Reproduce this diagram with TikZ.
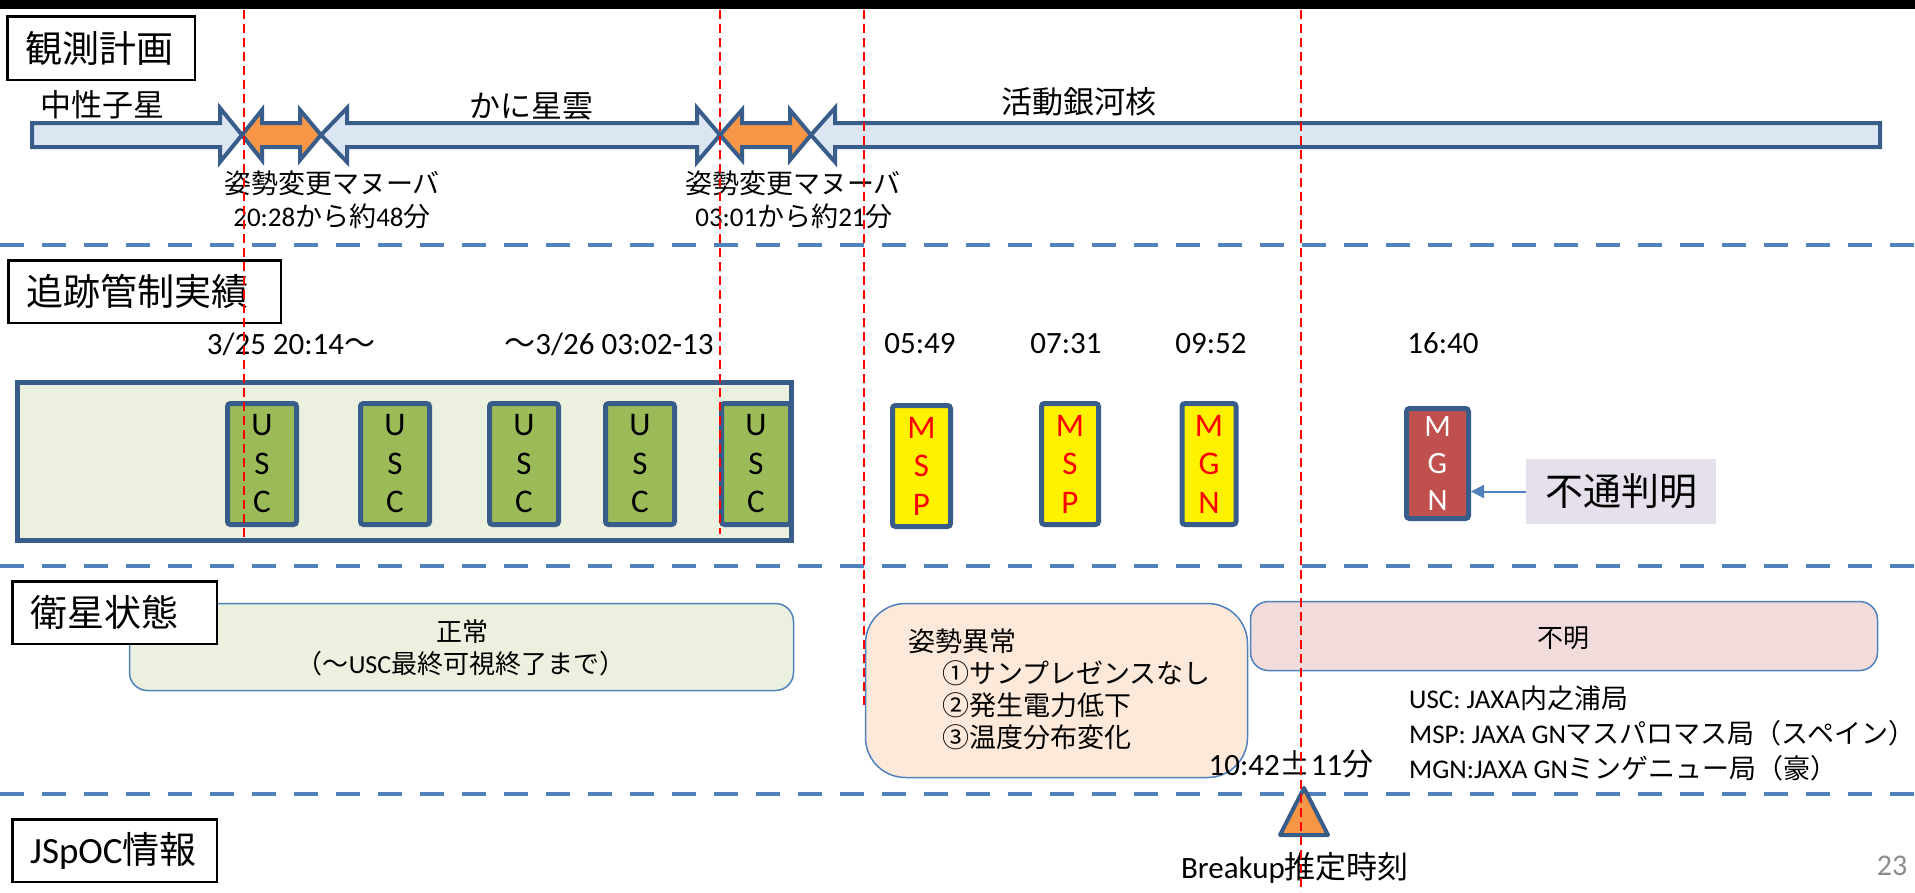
\documentclass[tikz,border=0pt]{standalone}
\usepackage{fontspec}
\setmainfont{Carlito}
\newfontfamily\jp{Noto Sans CJK JP}
\usetikzlibrary{arrows.meta}
\definecolor{dk}{RGB}{56,93,138}
\definecolor{lb}{RGB}{220,230,242}
\definecolor{org}{RGB}{247,150,70}
\definecolor{pnl}{RGB}{235,241,222}
\definecolor{uscg}{RGB}{155,187,89}
\definecolor{mgnr}{RGB}{192,80,77}
\definecolor{lav}{RGB}{230,224,236}
\definecolor{bl}{RGB}{79,129,189}
\definecolor{peach}{RGB}{253,233,217}
\definecolor{pinkbox}{RGB}{242,220,219}
\definecolor{pg}{RGB}{140,140,140}
\newcommand\fs[2]{\fontsize{#1}{#2}\selectfont}
\newcommand\J[1]{{\jp #1}}
\begin{document}
\begin{tikzpicture}[x=1pt,y=-1pt,
  titlebox/.style={draw=black, line width=2.5pt, fill=white, inner xsep=18pt, inner ysep=0pt, align=left, font=\fs{37}{44}},
  planarrow/.style={draw=dk, line width=4pt, fill=lb, line join=miter},
  manarrow/.style={draw=dk, line width=4pt, fill=org, line join=miter},
  lbl/.style={inner sep=0pt, font=\fs{31}{37}},
  smalllbl/.style={inner sep=0pt, font=\fs{27}{32}},
  statelbl/.style={inner sep=0pt, font=\fs{26}{32}},
  panelbox/.style={draw=dk, line width=5pt, fill=pnl, inner sep=0pt},
  stbox/.style={draw=dk, line width=5pt, rounded corners=3pt, inner sep=0pt, minimum height=121pt, align=center, font=\fs{33}{38.5}},
  uscbox/.style={stbox, fill=uscg, minimum width=69pt, text=black},
  mspbox/.style={stbox, fill=yellow, text=red},
  mgnbox/.style={stbox, fill=mgnr, text=white, minimum height=110pt, font=\fs{31}{37}},
  statebox/.style={draw=bl, line width=1.5pt, inner sep=0pt},
  bdash/.style={draw=bl, line width=4.5pt, dash pattern=on 24pt off 18pt},
  reddash/.style={draw=red, line width=1.6pt, dash pattern=on 9pt off 5pt},
]
\useasboundingbox (0,0) rectangle (1915,892);
\fill[white] (0,0) rectangle (1915,892);
\fill[black] (0,0) rectangle (1915,9);

% section separators
\draw[bdash] (0,245) -- (1915,245);
\draw[bdash] (0,566) -- (1915,566);
\draw[bdash] (0,794) -- (1915,794);

% observation plan arrows
\draw[planarrow] (32,123) -- (220,123) -- (220,108) -- (242,135) -- (220,162) -- (220,147) -- (32,147) -- cycle;
\draw[manarrow] (242,135) -- (262,110) -- (262,123) -- (300,123) -- (300,110) -- (321,135) -- (300,160) -- (300,147) -- (262,147) -- (262,160) -- cycle;
\draw[planarrow] (321,135) -- (347,108) -- (347,123) -- (697,123) -- (697,108) -- (720,135) -- (697,162) -- (697,147) -- (347,147) -- (347,162) -- cycle;
\draw[manarrow] (720,135) -- (742,110) -- (742,123) -- (790,123) -- (790,110) -- (811,135) -- (790,160) -- (790,147) -- (742,147) -- (742,160) -- cycle;
\draw[planarrow] (811,135) -- (835,108) -- (835,123) -- (1880,123) -- (1880,147) -- (835,147) -- (835,162) -- cycle;

\node[lbl, anchor=base] (ns) at (102,116) {\J{中性子星}};
\node[lbl, anchor=base] (crab) at (531,117) {\J{かに星雲}};
\node[lbl, anchor=base] (agn) at (1079,113) {\J{活動銀河核}};
\node[smalllbl, anchor=base] (m1a) at (332,193) {\J{姿勢変更マヌーバ}};
\node[smalllbl, anchor=base] (m1b) at (332,226) {20:28\J{から約}48\J{分}};
\node[smalllbl, anchor=base] (m2a) at (793,193) {\J{姿勢変更マヌーバ}};
\node[smalllbl, anchor=base] (m2b) at (794,226) {03:01\J{から約}21\J{分}};

% tracking
\node[lbl, anchor=base] (tm1) at (291,354) {3/25 20:14\J{～}};
\node[lbl, anchor=base] (tm2) at (609,354) {\J{～}3/26 03:02-13};
\node[lbl, anchor=base] (tm3) at (920,353) {05:49};
\node[lbl, anchor=base] (tm4) at (1066,353) {07:31};
\node[lbl, anchor=base] (tm5) at (1211,353) {09:52};
\node[lbl, anchor=base] (tm6) at (1443,353) {16:40};

\node[panelbox, minimum width=774pt, minimum height=158pt] (pnl) at (404.5,461.5) {};
\node[uscbox] (usc1) at (262,464) {U\\S\\C};
\node[uscbox] (usc2) at (395,464) {U\\S\\C};
\node[uscbox] (usc3) at (524,464) {U\\S\\C};
\node[uscbox] (usc4) at (640,464) {U\\S\\C};
\node[uscbox] (usc5) at (756,464) {U\\S\\C};
\node[mspbox, minimum width=58pt] (msp1) at (921.5,466) {M\\S\\P};
\node[mspbox, minimum width=57pt] (msp2) at (1070,464) {M\\S\\P};
\node[mspbox, minimum width=54pt] (mgn1) at (1209,464) {M\\G\\N};
\node[mgnbox, minimum width=62pt] (mgn2) at (1437.5,463.5) {M\\G\\N};
\node[fill=lav, inner sep=0pt, minimum width=190pt, minimum height=65pt, font=\fs{38}{44}] (fu) at (1621,491.5) {\J{不通判明}};
\draw[bl, line width=2pt, -{Triangle[length=13pt,width=13pt]}] (fu.west) -- (fu.west -| mgn2.east);

% satellite state
\node[statebox, fill=pnl, rounded corners=18pt, minimum width=664pt, minimum height=87pt] (okbox) at (461.5,647) {};
\node[statelbl, anchor=base] (ok1) at (462,641) {\J{正常}};
\node[statelbl, anchor=base] (ok2) at (461,673) {\J{（～}USC\J{最終可視終了まで）}};
\node[statebox, fill=peach, rounded corners=40pt, minimum width=382pt, minimum height=174pt] (abbox) at (1056.5,690.5) {};
\node[smalllbl, anchor=base west] (ab0) at (908,651) {\J{姿勢異常}};
\node[smalllbl, anchor=base west] (ab1) at (942,683) {\J{①サンプレゼンスなし}};
\node[smalllbl, anchor=base west] (ab2) at (942,715) {\J{②発生電力低下}};
\node[smalllbl, anchor=base west] (ab3) at (942,747) {\J{③温度分布変化}};
\node[statebox, fill=pinkbox, rounded corners=18pt, minimum width=627pt, minimum height=69pt] (unkbox) at (1564,636) {};
\node[statelbl, anchor=base] (unk) at (1563,647) {\J{不明}};
\node[smalllbl, anchor=base west] (lg1) at (1409,708) {USC: JAXA\J{内之浦局}};
\node[smalllbl, anchor=base west] (lg2) at (1409,743) {MSP: JAXA GN\J{マスパロマス局（スペイン）}};
\node[smalllbl, anchor=base west] (lg3) at (1409,778) {MGN:JAXA GN\J{ミンゲニュー局（豪）}};
\node[lbl, anchor=base] (bt) at (1291,775) {10:42\J{±}11\J{分}};

% JSpOC
\draw[draw=dk, line width=4pt, fill=org, line join=round] (1304,788) -- (1328,835) -- (1280,835) -- cycle;
\node[lbl, anchor=base] (bk) at (1295,878) {Breakup\J{推定時刻}};
\node[inner sep=0pt, anchor=base, font=\fs{30}{36}, text=pg] (pno) at (1892,875) {23};

% section titles (on top of the section contents)
\node[titlebox, minimum width=187.5pt, minimum height=63.5pt, text width=151.5pt] (tA) at (101,48) {\J{観測計画}};
\node[titlebox, minimum width=272.5pt, minimum height=62.5pt, text width=236.5pt] (tB) at (144.5,291.5) {\J{追跡管制実績}};
\node[titlebox, minimum width=204.5pt, minimum height=62.5pt, text width=168.5pt] (tC) at (114.5,612.5) {\J{衛星状態}};
\node[titlebox, minimum width=204.5pt, minimum height=62.5pt, text width=168.5pt] (tD) at (114.5,850.5) {JSpOC\J{情報}};

% red reference lines
\draw[reddash] (244,10) -- (244,538);
\draw[reddash] (720,10) -- (720,534);
\draw[reddash] (864,10) -- (864,705);
\draw[reddash] (1301,10) -- (1301,892);
\end{tikzpicture}
\end{document}
